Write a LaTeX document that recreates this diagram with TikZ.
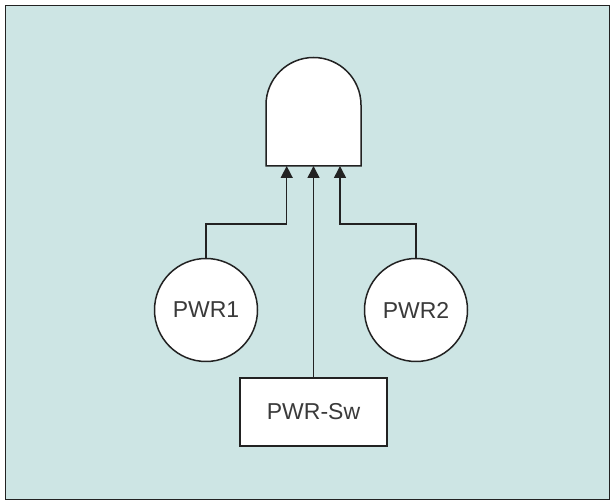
\documentclass[tikz,border=0pt]{standalone}
\usepackage{fontspec}
\setmainfont{Liberation Sans}
\usetikzlibrary{arrows.meta}
\definecolor{panel}{HTML}{CDE5E4}
\definecolor{ink}{HTML}{222222}
\definecolor{label}{HTML}{3A3A3A}
\tikzset{
  wire/.style={draw=ink, line width=1.5pt},
  feed/.style={wire, -{Triangle[length=12pt,width=12pt]}},
  source/.style={circle, draw=ink, fill=white, line width=1.5pt, inner sep=0pt,
    minimum size=103pt, text=label, font=\fontsize{23}{27}\selectfont},
  switchbox/.style={rectangle, draw=ink, fill=white, line width=1.5pt, inner sep=0pt,
    minimum width=147pt, minimum height=68pt, text=label, font=\fontsize{23}{27}\selectfont},
  gatebody/.style={draw=ink, fill=white, line width=1.5pt, line join=miter}
}
\begin{document}
\begin{tikzpicture}[x=1pt,y=1pt]
  \useasboundingbox (0,0) rectangle (611,501);
  % panel
  \path[fill=panel, draw=ink, line width=1.5pt] (5.5,1.5) rectangle (609.5,495.5);
  % AND gate body
  \path[gatebody] (266,335) -- (266,396) arc[start angle=180, end angle=0, radius=47.5pt] -- (361,335) -- cycle;
  \coordinate (gin1) at (286.7,335);
  \coordinate (gin2) at (313.5,335);
  \coordinate (gin3) at (340,335);
  % inputs
  \node[source] (p1) at (206,191) {PWR1};
  \node[source] (p2) at (416,191) {PWR2};
  \node[switchbox] (sw) at (313.5,89) {PWR-Sw};
  % connectors
  \draw[feed] (p1.north) -- ++(0,33.5) -| (gin1);
  \draw[feed] (p2.north) -- ++(0,33.5) -| (gin3);
  \draw[feed] (sw.north) -- (gin2);
\end{tikzpicture}
\end{document}
